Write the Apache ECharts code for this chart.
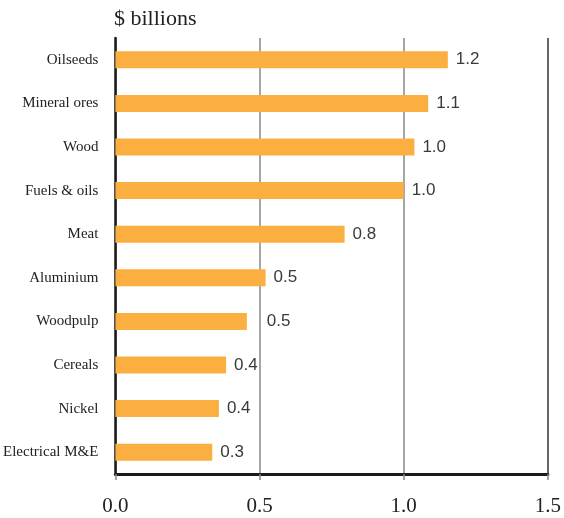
<!DOCTYPE html>
<html>
<head>
<meta charset="utf-8">
<script src="https://cdn.jsdelivr.net/npm/echarts@6/dist/echarts.min.js"></script>
<style>html,body{margin:0;padding:0;background:#fff}#c{width:564px;height:518px}</style>
</head>
<body>
<div id="c"></div>
<script>
const categories = ['Oilseeds','Mineral ores','Wood','Fuels & oils','Meat','Aluminium','Woodpulp','Cereals','Nickel','Electrical M&E'];
const values = [1.153, 1.085, 1.037, 1.0, 0.795, 0.521, 0.456, 0.384, 0.359, 0.336];
const valueLabels = ['1.2','1.1','1.0','1.0','0.8','0.5','0.5','0.4','0.4','0.3'];
const xTicks = [0, 0.5, 1.0, 1.5];
const unitTitle = '$ billions';

const chart = echarts.init(document.getElementById('c'));
const seriesData = values.map((v, i) => {
  const item = { value: v };
  if (categories[i] === 'Woodpulp') item.label = { distance: 20 };
  return item;
});
chart.setOption({
  animation: false,
  title: {
    text: unitTitle, left: 109, top: 3,
    textStyle: { fontFamily: 'Liberation Serif', fontSize: 22, fontWeight: 'normal', color: '#222' }
  },
  grid: { left: 114, right: 16, top: 38, bottom: 44, containLabel: false },
  xAxis: {
    type: 'value', min: xTicks[0], max: xTicks[xTicks.length - 1], interval: 0.5,
    axisLine: { show: true, onZero: false, lineStyle: { color: '#1a1a1a', width: 3 } },
    axisTick: { show: true, length: 6, lineStyle: { color: '#888', width: 1.5 } },
    axisLabel: {
      margin: 22, fontFamily: 'Liberation Serif', fontSize: 21, color: '#222',
      formatter: v => v.toFixed(1)
    },
    splitLine: { show: true, lineStyle: { color: ['#888', '#888', '#888', '#333'], width: 1.5 } }
  },
  yAxis: {
    type: 'category', data: categories, inverse: true,
    axisLine: { show: true, lineStyle: { color: '#1a1a1a', width: 2.5 } },
    axisTick: { show: false },
    axisLabel: { margin: 17, fontFamily: 'Liberation Serif', fontSize: 15, color: '#222' }
  },
  series: [{
    type: 'bar', data: seriesData, barWidth: 17,
    itemStyle: { color: '#FBAF41' },
    label: {
      show: true, position: 'right', distance: 8,
      fontFamily: 'Liberation Sans', fontSize: 17, color: '#3a3a3a',
      formatter: p => valueLabels[p.dataIndex]
    }
  }]
});
</script>
</body>
</html>
